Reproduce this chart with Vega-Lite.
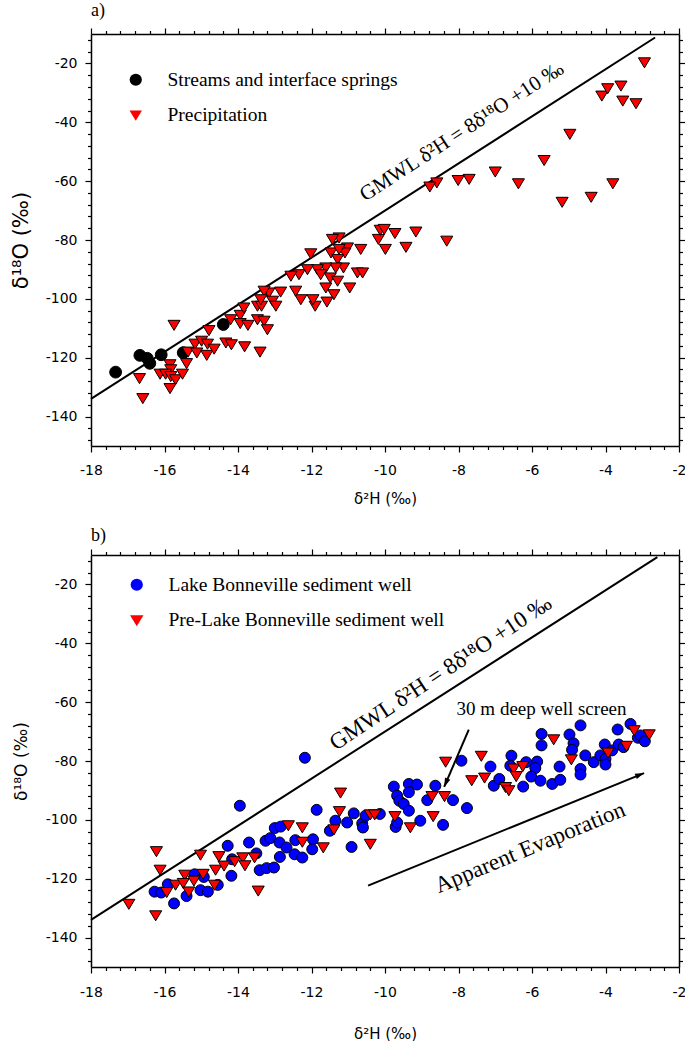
{
  "$schema": "https://vega.github.io/schema/vega-lite/v6.json",
  "padding": {"left": 10, "top": 2, "right": 0, "bottom": 0},
  "spacing": 21,
  "resolve": {"scale": {"fill": "independent", "shape": "independent"}, "legend": {"fill": "independent", "shape": "independent"}},
  "datasets": {
    "gmwl_a": [{"x": -18, "y": -134}, {"x": -2.65, "y": -11.2}],
    "gmwl_b": [{"x": -18, "y": -134}, {"x": -2.59, "y": -10.72}],
    "samples_a": [
      {"x": -17.33, "y": -124.9, "type": "Streams and interface springs"},
      {"x": -16.67, "y": -119.2, "type": "Streams and interface springs"},
      {"x": -16.47, "y": -120.2, "type": "Streams and interface springs"},
      {"x": -16.40, "y": -121.9, "type": "Streams and interface springs"},
      {"x": -16.09, "y": -119.0, "type": "Streams and interface springs"},
      {"x": -15.49, "y": -118.3, "type": "Streams and interface springs"},
      {"x": -14.40, "y": -108.7, "type": "Streams and interface springs"},
      {"x": -15.74, "y": -108.7, "type": "Precipitation"},
      {"x": -16.68, "y": -126.8, "type": "Precipitation"},
      {"x": -16.59, "y": -133.6, "type": "Precipitation"},
      {"x": -15.85, "y": -122.1, "type": "Precipitation"},
      {"x": -15.83, "y": -123.8, "type": "Precipitation"},
      {"x": -16.12, "y": -125.3, "type": "Precipitation"},
      {"x": -15.97, "y": -125.3, "type": "Precipitation"},
      {"x": -15.83, "y": -126.1, "type": "Precipitation"},
      {"x": -15.70, "y": -127.2, "type": "Precipitation"},
      {"x": -15.85, "y": -130.2, "type": "Precipitation"},
      {"x": -15.51, "y": -125.3, "type": "Precipitation"},
      {"x": -15.40, "y": -121.7, "type": "Precipitation"},
      {"x": -15.36, "y": -117.8, "type": "Precipitation"},
      {"x": -15.17, "y": -115.1, "type": "Precipitation"},
      {"x": -15.12, "y": -118.1, "type": "Precipitation"},
      {"x": -14.99, "y": -114.1, "type": "Precipitation"},
      {"x": -14.83, "y": -115.1, "type": "Precipitation"},
      {"x": -14.85, "y": -118.9, "type": "Precipitation"},
      {"x": -14.65, "y": -116.8, "type": "Precipitation"},
      {"x": -14.79, "y": -110.5, "type": "Precipitation"},
      {"x": -14.33, "y": -114.7, "type": "Precipitation"},
      {"x": -14.18, "y": -115.3, "type": "Precipitation"},
      {"x": -13.82, "y": -116.0, "type": "Precipitation"},
      {"x": -13.40, "y": -117.8, "type": "Precipitation"},
      {"x": -14.20, "y": -106.8, "type": "Precipitation"},
      {"x": -13.94, "y": -105.3, "type": "Precipitation"},
      {"x": -13.84, "y": -102.8, "type": "Precipitation"},
      {"x": -13.94, "y": -108.1, "type": "Precipitation"},
      {"x": -13.73, "y": -108.7, "type": "Precipitation"},
      {"x": -13.47, "y": -102.2, "type": "Precipitation"},
      {"x": -13.36, "y": -102.2, "type": "Precipitation"},
      {"x": -13.47, "y": -106.8, "type": "Precipitation"},
      {"x": -13.29, "y": -107.3, "type": "Precipitation"},
      {"x": -13.20, "y": -110.2, "type": "Precipitation"},
      {"x": -13.16, "y": -97.7, "type": "Precipitation"},
      {"x": -12.84, "y": -97.4, "type": "Precipitation"},
      {"x": -13.06, "y": -100.5, "type": "Precipitation"},
      {"x": -12.97, "y": -102.2, "type": "Precipitation"},
      {"x": -13.29, "y": -97.1, "type": "Precipitation"},
      {"x": -13.38, "y": -100.0, "type": "Precipitation"},
      {"x": -2.94, "y": -19.5, "type": "Precipitation"},
      {"x": -4.10, "y": -30.8, "type": "Precipitation"},
      {"x": -3.94, "y": -28.3, "type": "Precipitation"},
      {"x": -3.58, "y": -27.4, "type": "Precipitation"},
      {"x": -3.53, "y": -32.5, "type": "Precipitation"},
      {"x": -3.17, "y": -33.4, "type": "Precipitation"},
      {"x": -4.97, "y": -43.8, "type": "Precipitation"},
      {"x": -5.67, "y": -52.7, "type": "Precipitation"},
      {"x": -3.80, "y": -60.6, "type": "Precipitation"},
      {"x": -4.39, "y": -65.2, "type": "Precipitation"},
      {"x": -5.18, "y": -66.9, "type": "Precipitation"},
      {"x": -6.37, "y": -60.6, "type": "Precipitation"},
      {"x": -7.00, "y": -56.6, "type": "Precipitation"},
      {"x": -7.71, "y": -59.1, "type": "Precipitation"},
      {"x": -8.01, "y": -59.5, "type": "Precipitation"},
      {"x": -8.59, "y": -60.3, "type": "Precipitation"},
      {"x": -8.78, "y": -61.7, "type": "Precipitation"},
      {"x": -8.32, "y": -80.1, "type": "Precipitation"},
      {"x": -9.16, "y": -77.0, "type": "Precipitation"},
      {"x": -9.43, "y": -82.2, "type": "Precipitation"},
      {"x": -9.73, "y": -77.5, "type": "Precipitation"},
      {"x": -9.99, "y": -82.9, "type": "Precipitation"},
      {"x": -10.18, "y": -79.5, "type": "Precipitation"},
      {"x": -10.13, "y": -76.4, "type": "Precipitation"},
      {"x": -10.02, "y": -76.1, "type": "Precipitation"},
      {"x": -10.66, "y": -82.9, "type": "Precipitation"},
      {"x": -10.75, "y": -90.9, "type": "Precipitation"},
      {"x": -10.61, "y": -90.9, "type": "Precipitation"},
      {"x": -10.96, "y": -96.0, "type": "Precipitation"},
      {"x": -11.25, "y": -79.0, "type": "Precipitation"},
      {"x": -11.43, "y": -79.5, "type": "Precipitation"},
      {"x": -11.02, "y": -82.4, "type": "Precipitation"},
      {"x": -11.09, "y": -84.1, "type": "Precipitation"},
      {"x": -11.47, "y": -84.1, "type": "Precipitation"},
      {"x": -11.25, "y": -82.9, "type": "Precipitation"},
      {"x": -11.29, "y": -86.3, "type": "Precipitation"},
      {"x": -12.02, "y": -84.4, "type": "Precipitation"},
      {"x": -11.13, "y": -89.2, "type": "Precipitation"},
      {"x": -11.34, "y": -89.2, "type": "Precipitation"},
      {"x": -11.61, "y": -89.2, "type": "Precipitation"},
      {"x": -11.84, "y": -89.8, "type": "Precipitation"},
      {"x": -12.11, "y": -89.8, "type": "Precipitation"},
      {"x": -12.34, "y": -91.5, "type": "Precipitation"},
      {"x": -12.56, "y": -92.0, "type": "Precipitation"},
      {"x": -11.75, "y": -91.5, "type": "Precipitation"},
      {"x": -11.49, "y": -92.6, "type": "Precipitation"},
      {"x": -11.29, "y": -93.7, "type": "Precipitation"},
      {"x": -11.61, "y": -96.0, "type": "Precipitation"},
      {"x": -11.39, "y": -98.3, "type": "Precipitation"},
      {"x": -11.90, "y": -102.2, "type": "Precipitation"},
      {"x": -11.58, "y": -100.8, "type": "Precipitation"},
      {"x": -11.96, "y": -100.0, "type": "Precipitation"},
      {"x": -12.29, "y": -100.0, "type": "Precipitation"},
      {"x": -12.43, "y": -97.1, "type": "Precipitation"}
    ],
    "samples_b": [
      {"x": -13.95, "y": -95.2, "type": "Lake Bonneville sediment well"},
      {"x": -16.27, "y": -124.4, "type": "Lake Bonneville sediment well"},
      {"x": -16.09, "y": -124.7, "type": "Lake Bonneville sediment well"},
      {"x": -15.74, "y": -128.4, "type": "Lake Bonneville sediment well"},
      {"x": -15.40, "y": -125.9, "type": "Lake Bonneville sediment well"},
      {"x": -15.91, "y": -121.9, "type": "Lake Bonneville sediment well"},
      {"x": -15.18, "y": -118.5, "type": "Lake Bonneville sediment well"},
      {"x": -15.02, "y": -123.9, "type": "Lake Bonneville sediment well"},
      {"x": -14.82, "y": -124.4, "type": "Lake Bonneville sediment well"},
      {"x": -14.55, "y": -122.1, "type": "Lake Bonneville sediment well"},
      {"x": -14.93, "y": -119.4, "type": "Lake Bonneville sediment well"},
      {"x": -14.28, "y": -108.8, "type": "Lake Bonneville sediment well"},
      {"x": -14.18, "y": -119.0, "type": "Lake Bonneville sediment well"},
      {"x": -14.16, "y": -113.4, "type": "Lake Bonneville sediment well"},
      {"x": -13.70, "y": -107.7, "type": "Lake Bonneville sediment well"},
      {"x": -13.41, "y": -117.1, "type": "Lake Bonneville sediment well"},
      {"x": -13.22, "y": -116.4, "type": "Lake Bonneville sediment well"},
      {"x": -13.02, "y": -116.2, "type": "Lake Bonneville sediment well"},
      {"x": -13.50, "y": -111.4, "type": "Lake Bonneville sediment well"},
      {"x": -13.25, "y": -107.1, "type": "Lake Bonneville sediment well"},
      {"x": -13.12, "y": -106.2, "type": "Lake Bonneville sediment well"},
      {"x": -13.00, "y": -102.8, "type": "Lake Bonneville sediment well"},
      {"x": -12.84, "y": -102.3, "type": "Lake Bonneville sediment well"},
      {"x": -12.87, "y": -107.7, "type": "Lake Bonneville sediment well"},
      {"x": -12.86, "y": -112.6, "type": "Lake Bonneville sediment well"},
      {"x": -12.68, "y": -109.4, "type": "Lake Bonneville sediment well"},
      {"x": -12.46, "y": -111.7, "type": "Lake Bonneville sediment well"},
      {"x": -12.44, "y": -106.9, "type": "Lake Bonneville sediment well"},
      {"x": -12.18, "y": -78.9, "type": "Lake Bonneville sediment well"},
      {"x": -11.86, "y": -96.6, "type": "Lake Bonneville sediment well"},
      {"x": -11.96, "y": -106.6, "type": "Lake Bonneville sediment well"},
      {"x": -11.98, "y": -110.0, "type": "Lake Bonneville sediment well"},
      {"x": -12.25, "y": -112.8, "type": "Lake Bonneville sediment well"},
      {"x": -11.50, "y": -103.7, "type": "Lake Bonneville sediment well"},
      {"x": -11.35, "y": -100.3, "type": "Lake Bonneville sediment well"},
      {"x": -11.03, "y": -100.9, "type": "Lake Bonneville sediment well"},
      {"x": -10.85, "y": -97.8, "type": "Lake Bonneville sediment well"},
      {"x": -10.62, "y": -101.2, "type": "Lake Bonneville sediment well"},
      {"x": -10.60, "y": -102.6, "type": "Lake Bonneville sediment well"},
      {"x": -10.53, "y": -98.6, "type": "Lake Bonneville sediment well"},
      {"x": -10.14, "y": -98.0, "type": "Lake Bonneville sediment well"},
      {"x": -10.91, "y": -109.2, "type": "Lake Bonneville sediment well"},
      {"x": -9.76, "y": -88.7, "type": "Lake Bonneville sediment well"},
      {"x": -9.67, "y": -91.8, "type": "Lake Bonneville sediment well"},
      {"x": -9.61, "y": -93.5, "type": "Lake Bonneville sediment well"},
      {"x": -9.49, "y": -94.6, "type": "Lake Bonneville sediment well"},
      {"x": -9.35, "y": -87.8, "type": "Lake Bonneville sediment well"},
      {"x": -9.35, "y": -90.6, "type": "Lake Bonneville sediment well"},
      {"x": -9.13, "y": -88.0, "type": "Lake Bonneville sediment well"},
      {"x": -9.35, "y": -96.9, "type": "Lake Bonneville sediment well"},
      {"x": -9.71, "y": -102.4, "type": "Lake Bonneville sediment well"},
      {"x": -9.67, "y": -100.9, "type": "Lake Bonneville sediment well"},
      {"x": -9.04, "y": -100.3, "type": "Lake Bonneville sediment well"},
      {"x": -8.63, "y": -88.4, "type": "Lake Bonneville sediment well"},
      {"x": -8.85, "y": -93.3, "type": "Lake Bonneville sediment well"},
      {"x": -8.42, "y": -101.7, "type": "Lake Bonneville sediment well"},
      {"x": -8.15, "y": -93.3, "type": "Lake Bonneville sediment well"},
      {"x": -7.92, "y": -79.9, "type": "Lake Bonneville sediment well"},
      {"x": -7.77, "y": -96.0, "type": "Lake Bonneville sediment well"},
      {"x": -7.13, "y": -81.9, "type": "Lake Bonneville sediment well"},
      {"x": -7.04, "y": -88.4, "type": "Lake Bonneville sediment well"},
      {"x": -6.89, "y": -86.1, "type": "Lake Bonneville sediment well"},
      {"x": -6.24, "y": -88.7, "type": "Lake Bonneville sediment well"},
      {"x": -6.56, "y": -78.2, "type": "Lake Bonneville sediment well"},
      {"x": -6.59, "y": -81.6, "type": "Lake Bonneville sediment well"},
      {"x": -6.16, "y": -80.4, "type": "Lake Bonneville sediment well"},
      {"x": -5.86, "y": -80.2, "type": "Lake Bonneville sediment well"},
      {"x": -5.91, "y": -82.4, "type": "Lake Bonneville sediment well"},
      {"x": -6.02, "y": -85.3, "type": "Lake Bonneville sediment well"},
      {"x": -5.77, "y": -86.7, "type": "Lake Bonneville sediment well"},
      {"x": -5.45, "y": -87.8, "type": "Lake Bonneville sediment well"},
      {"x": -5.23, "y": -86.4, "type": "Lake Bonneville sediment well"},
      {"x": -5.25, "y": -81.9, "type": "Lake Bonneville sediment well"},
      {"x": -5.74, "y": -70.8, "type": "Lake Bonneville sediment well"},
      {"x": -5.74, "y": -74.7, "type": "Lake Bonneville sediment well"},
      {"x": -4.98, "y": -71.0, "type": "Lake Bonneville sediment well"},
      {"x": -4.87, "y": -74.0, "type": "Lake Bonneville sediment well"},
      {"x": -4.91, "y": -76.2, "type": "Lake Bonneville sediment well"},
      {"x": -4.68, "y": -67.9, "type": "Lake Bonneville sediment well"},
      {"x": -4.68, "y": -82.7, "type": "Lake Bonneville sediment well"},
      {"x": -4.68, "y": -84.6, "type": "Lake Bonneville sediment well"},
      {"x": -4.55, "y": -78.1, "type": "Lake Bonneville sediment well"},
      {"x": -4.32, "y": -80.4, "type": "Lake Bonneville sediment well"},
      {"x": -4.02, "y": -74.4, "type": "Lake Bonneville sediment well"},
      {"x": -4.14, "y": -78.1, "type": "Lake Bonneville sediment well"},
      {"x": -4.00, "y": -79.3, "type": "Lake Bonneville sediment well"},
      {"x": -4.00, "y": -81.2, "type": "Lake Bonneville sediment well"},
      {"x": -3.82, "y": -76.4, "type": "Lake Bonneville sediment well"},
      {"x": -3.67, "y": -69.3, "type": "Lake Bonneville sediment well"},
      {"x": -3.64, "y": -74.4, "type": "Lake Bonneville sediment well"},
      {"x": -3.51, "y": -75.3, "type": "Lake Bonneville sediment well"},
      {"x": -3.32, "y": -67.4, "type": "Lake Bonneville sediment well"},
      {"x": -3.12, "y": -72.1, "type": "Lake Bonneville sediment well"},
      {"x": -3.05, "y": -71.3, "type": "Lake Bonneville sediment well"},
      {"x": -2.93, "y": -73.3, "type": "Lake Bonneville sediment well"},
      {"x": -16.97, "y": -128.4, "type": "Pre-Lake Bonneville sediment well"},
      {"x": -16.22, "y": -110.5, "type": "Pre-Lake Bonneville sediment well"},
      {"x": -16.12, "y": -116.8, "type": "Pre-Lake Bonneville sediment well"},
      {"x": -16.24, "y": -132.3, "type": "Pre-Lake Bonneville sediment well"},
      {"x": -15.94, "y": -124.4, "type": "Pre-Lake Bonneville sediment well"},
      {"x": -15.70, "y": -121.9, "type": "Pre-Lake Bonneville sediment well"},
      {"x": -15.45, "y": -118.5, "type": "Pre-Lake Bonneville sediment well"},
      {"x": -15.49, "y": -121.3, "type": "Pre-Lake Bonneville sediment well"},
      {"x": -15.34, "y": -124.2, "type": "Pre-Lake Bonneville sediment well"},
      {"x": -15.20, "y": -120.5, "type": "Pre-Lake Bonneville sediment well"},
      {"x": -14.95, "y": -118.2, "type": "Pre-Lake Bonneville sediment well"},
      {"x": -15.02, "y": -111.7, "type": "Pre-Lake Bonneville sediment well"},
      {"x": -14.64, "y": -121.9, "type": "Pre-Lake Bonneville sediment well"},
      {"x": -14.61, "y": -116.8, "type": "Pre-Lake Bonneville sediment well"},
      {"x": -14.52, "y": -112.2, "type": "Pre-Lake Bonneville sediment well"},
      {"x": -14.38, "y": -115.4, "type": "Pre-Lake Bonneville sediment well"},
      {"x": -14.09, "y": -113.9, "type": "Pre-Lake Bonneville sediment well"},
      {"x": -13.87, "y": -112.6, "type": "Pre-Lake Bonneville sediment well"},
      {"x": -13.81, "y": -115.3, "type": "Pre-Lake Bonneville sediment well"},
      {"x": -13.55, "y": -112.6, "type": "Pre-Lake Bonneville sediment well"},
      {"x": -13.45, "y": -123.9, "type": "Pre-Lake Bonneville sediment well"},
      {"x": -12.63, "y": -101.7, "type": "Pre-Lake Bonneville sediment well"},
      {"x": -12.25, "y": -102.4, "type": "Pre-Lake Bonneville sediment well"},
      {"x": -12.25, "y": -107.3, "type": "Pre-Lake Bonneville sediment well"},
      {"x": -11.68, "y": -109.2, "type": "Pre-Lake Bonneville sediment well"},
      {"x": -11.21, "y": -90.6, "type": "Pre-Lake Bonneville sediment well"},
      {"x": -11.24, "y": -96.9, "type": "Pre-Lake Bonneville sediment well"},
      {"x": -11.39, "y": -103.1, "type": "Pre-Lake Bonneville sediment well"},
      {"x": -10.40, "y": -108.0, "type": "Pre-Lake Bonneville sediment well"},
      {"x": -10.40, "y": -98.0, "type": "Pre-Lake Bonneville sediment well"},
      {"x": -10.28, "y": -98.0, "type": "Pre-Lake Bonneville sediment well"},
      {"x": -9.73, "y": -98.6, "type": "Pre-Lake Bonneville sediment well"},
      {"x": -9.31, "y": -102.4, "type": "Pre-Lake Bonneville sediment well"},
      {"x": -8.72, "y": -91.8, "type": "Pre-Lake Bonneville sediment well"},
      {"x": -8.38, "y": -91.8, "type": "Pre-Lake Bonneville sediment well"},
      {"x": -8.69, "y": -98.6, "type": "Pre-Lake Bonneville sediment well"},
      {"x": -8.35, "y": -80.1, "type": "Pre-Lake Bonneville sediment well"},
      {"x": -7.64, "y": -86.4, "type": "Pre-Lake Bonneville sediment well"},
      {"x": -7.38, "y": -78.1, "type": "Pre-Lake Bonneville sediment well"},
      {"x": -7.29, "y": -85.5, "type": "Pre-Lake Bonneville sediment well"},
      {"x": -6.72, "y": -88.7, "type": "Pre-Lake Bonneville sediment well"},
      {"x": -6.63, "y": -89.8, "type": "Pre-Lake Bonneville sediment well"},
      {"x": -6.50, "y": -82.4, "type": "Pre-Lake Bonneville sediment well"},
      {"x": -6.43, "y": -85.0, "type": "Pre-Lake Bonneville sediment well"},
      {"x": -6.25, "y": -81.6, "type": "Pre-Lake Bonneville sediment well"},
      {"x": -5.41, "y": -72.5, "type": "Pre-Lake Bonneville sediment well"},
      {"x": -4.93, "y": -79.3, "type": "Pre-Lake Bonneville sediment well"},
      {"x": -3.93, "y": -77.0, "type": "Pre-Lake Bonneville sediment well"},
      {"x": -3.43, "y": -74.7, "type": "Pre-Lake Bonneville sediment well"},
      {"x": -3.22, "y": -69.4, "type": "Pre-Lake Bonneville sediment well"},
      {"x": -2.81, "y": -70.8, "type": "Pre-Lake Bonneville sediment well"}
    ]
  },
  "vconcat": [
    {
      "width": 588,
      "height": 412,
      "title": {"text": "a)", "anchor": "start", "frame": "group", "font": "Liberation Serif", "fontSize": 18, "fontWeight": "normal", "offset": 7, "color": "black"},
      "layer": [
        {
          "data": {"name": "gmwl_a"},
          "mark": {"type": "line", "color": "black", "strokeWidth": 2},
          "encoding": {
            "x": {"field": "x", "type": "quantitative", "scale": {"domain": [-18, -2], "nice": false, "zero": false},
              "axis": {"orient": "bottom", "values": [-18,-17.6,-17.2,-16.8,-16.4,-16,-15.6,-15.2,-14.8,-14.4,-14,-13.6,-13.2,-12.8,-12.4,-12,-11.6,-11.2,-10.8,-10.4,-10,-9.6,-9.2,-8.8,-8.4,-8,-7.6,-7.2,-6.8,-6.4,-6,-5.6,-5.2,-4.8,-4.4,-4,-3.6,-3.2,-2.8,-2.4,-2],
                "labelExpr": "abs(datum.value % 2) < 0.01 || abs(datum.value % 2) > 1.99 ? toString(datum.value) : ''",
                "tickSize": {"condition": {"test": "abs(datum.value % 2) < 0.01 || abs(datum.value % 2) > 1.99", "value": 6}, "value": 3.5},
                "labelPadding": 11, "labelOverlap": false, "labelFlush": false, "labelBound": false,
                "title": "δ²H (‰)", "titleFontSize": 15, "titleY": 52, "titleBaseline": "middle"}},
            "y": {"field": "y", "type": "quantitative", "scale": {"domain": [-150, -10], "nice": false, "zero": false},
              "axis": {"orient": "left", "values": [-148,-144,-140,-136,-132,-128,-124,-120,-116,-112,-108,-104,-100,-96,-92,-88,-84,-80,-76,-72,-68,-64,-60,-56,-52,-48,-44,-40,-36,-32,-28,-24,-20,-16,-12],
                "labelExpr": "datum.value % 20 === 0 ? toString(datum.value) : ''",
                "tickSize": {"condition": {"test": "datum.value % 20 === 0", "value": 6}, "value": 3.5},
                "labelPadding": 8, "labelOverlap": false, "labelFlush": false, "labelBound": false,
                "title": "δ¹⁸O (‰)", "titleFontSize": 21, "titleX": -70, "titleBaseline": "middle"}}
          }
        },
        {
          "data": {"name": "samples_a"},
          "mark": {"type": "point", "filled": true, "stroke": "black", "strokeWidth": 1, "opacity": 1, "size": 140},
          "encoding": {
            "x": {"field": "x", "type": "quantitative", "scale": {"domain": [-18, -2], "nice": false, "zero": false},
              "axis": {"orient": "top", "values": [-18,-17.6,-17.2,-16.8,-16.4,-16,-15.6,-15.2,-14.8,-14.4,-14,-13.6,-13.2,-12.8,-12.4,-12,-11.6,-11.2,-10.8,-10.4,-10,-9.6,-9.2,-8.8,-8.4,-8,-7.6,-7.2,-6.8,-6.4,-6,-5.6,-5.2,-4.8,-4.4,-4,-3.6,-3.2,-2.8,-2.4,-2],
                "labels": false, "title": null,
                "tickSize": {"condition": {"test": "abs(datum.value % 2) < 0.01 || abs(datum.value % 2) > 1.99", "value": 6}, "value": 3.5}}},
            "y": {"field": "y", "type": "quantitative", "scale": {"domain": [-150, -10], "nice": false, "zero": false},
              "axis": {"orient": "right", "values": [-148,-144,-140,-136,-132,-128,-124,-120,-116,-112,-108,-104,-100,-96,-92,-88,-84,-80,-76,-72,-68,-64,-60,-56,-52,-48,-44,-40,-36,-32,-28,-24,-20,-16,-12],
                "labels": false, "title": null,
                "tickSize": {"condition": {"test": "datum.value % 20 === 0", "value": 6}, "value": 3.5}}},
            "fill": {"field": "type", "type": "nominal", "scale": {"domain": ["Streams and interface springs", "Precipitation"], "range": ["black", "#ff0000"]},
              "legend": {"legendX": 35, "legendY": 36, "symbolStrokeColor": "black", "symbolStrokeWidth": 1, "encode": {"symbols": {"enter": {"stroke": {"value": "black"}, "strokeWidth": {"value": 1}}, "update": {"stroke": {"value": "black"}, "strokeWidth": {"value": 1}}}}}},
            "shape": {"field": "type", "type": "nominal", "scale": {"domain": ["Streams and interface springs", "Precipitation"], "range": ["circle", "M-1.02,-0.7L1.02,-0.7L0,1.0Z"]},
              "legend": {"legendX": 35, "legendY": 36, "symbolStrokeColor": "black", "symbolStrokeWidth": 1, "encode": {"symbols": {"enter": {"stroke": {"value": "black"}, "strokeWidth": {"value": 1}}, "update": {"stroke": {"value": "black"}, "strokeWidth": {"value": 1}}}}}}
          }
        },
        {
          "data": {"values": [{"x": -7.82, "y": -44.97, "label": "GMWL δ²H = 8δ¹⁸O +10 ‰"}]},
          "mark": {"type": "text", "angle": -33, "font": "Liberation Serif", "fontSize": 21, "align": "center", "baseline": "alphabetic", "color": "black"},
          "encoding": {
            "x": {"field": "x", "type": "quantitative", "axis": null},
            "y": {"field": "y", "type": "quantitative", "axis": null},
            "text": {"field": "label"}
          }
        }
      ],
      "resolve": {"axis": {"x": "independent", "y": "independent"}}
    },
    {
      "width": 588,
      "height": 412,
      "title": {"text": "b)", "anchor": "start", "frame": "group", "font": "Liberation Serif", "fontSize": 18, "fontWeight": "normal", "offset": 3, "color": "black"},
      "layer": [
        {
          "data": {"name": "gmwl_b"},
          "mark": {"type": "line", "color": "black", "strokeWidth": 2},
          "encoding": {
            "x": {"field": "x", "type": "quantitative", "scale": {"domain": [-18, -2], "nice": false, "zero": false},
              "axis": {"orient": "bottom", "values": [-18,-17.6,-17.2,-16.8,-16.4,-16,-15.6,-15.2,-14.8,-14.4,-14,-13.6,-13.2,-12.8,-12.4,-12,-11.6,-11.2,-10.8,-10.4,-10,-9.6,-9.2,-8.8,-8.4,-8,-7.6,-7.2,-6.8,-6.4,-6,-5.6,-5.2,-4.8,-4.4,-4,-3.6,-3.2,-2.8,-2.4,-2],
                "labelExpr": "abs(datum.value % 2) < 0.01 || abs(datum.value % 2) > 1.99 ? toString(datum.value) : ''",
                "tickSize": {"condition": {"test": "abs(datum.value % 2) < 0.01 || abs(datum.value % 2) > 1.99", "value": 6}, "value": 3.5},
                "labelPadding": 12, "labelOverlap": false, "labelFlush": false, "labelBound": false,
                "title": "δ²H (‰)", "titleFontSize": 15, "titleY": 66, "titleBaseline": "middle"}},
            "y": {"field": "y", "type": "quantitative", "scale": {"domain": [-150, -10], "nice": false, "zero": false},
              "axis": {"orient": "left", "values": [-148,-144,-140,-136,-132,-128,-124,-120,-116,-112,-108,-104,-100,-96,-92,-88,-84,-80,-76,-72,-68,-64,-60,-56,-52,-48,-44,-40,-36,-32,-28,-24,-20,-16,-12],
                "labelExpr": "datum.value % 20 === 0 ? toString(datum.value) : ''",
                "tickSize": {"condition": {"test": "datum.value % 20 === 0", "value": 6}, "value": 3.5},
                "labelPadding": 8, "labelOverlap": false, "labelFlush": false, "labelBound": false,
                "title": "δ¹⁸O (‰)", "titleFontSize": 17, "titleX": -70, "titleBaseline": "middle"}}
          }
        },
        {
          "data": {"name": "samples_b"},
          "mark": {"type": "point", "filled": true, "stroke": "black", "strokeWidth": 1, "opacity": 1, "size": 120},
          "encoding": {
            "x": {"field": "x", "type": "quantitative", "scale": {"domain": [-18, -2], "nice": false, "zero": false},
              "axis": {"orient": "top", "values": [-18,-17.6,-17.2,-16.8,-16.4,-16,-15.6,-15.2,-14.8,-14.4,-14,-13.6,-13.2,-12.8,-12.4,-12,-11.6,-11.2,-10.8,-10.4,-10,-9.6,-9.2,-8.8,-8.4,-8,-7.6,-7.2,-6.8,-6.4,-6,-5.6,-5.2,-4.8,-4.4,-4,-3.6,-3.2,-2.8,-2.4,-2],
                "labels": false, "title": null,
                "tickSize": {"condition": {"test": "abs(datum.value % 2) < 0.01 || abs(datum.value % 2) > 1.99", "value": 6}, "value": 3.5}}},
            "y": {"field": "y", "type": "quantitative", "scale": {"domain": [-150, -10], "nice": false, "zero": false},
              "axis": {"orient": "right", "values": [-148,-144,-140,-136,-132,-128,-124,-120,-116,-112,-108,-104,-100,-96,-92,-88,-84,-80,-76,-72,-68,-64,-60,-56,-52,-48,-44,-40,-36,-32,-28,-24,-20,-16,-12],
                "labels": false, "title": null,
                "tickSize": {"condition": {"test": "datum.value % 20 === 0", "value": 6}, "value": 3.5}}},
            "fill": {"field": "type", "type": "nominal", "scale": {"domain": ["Lake Bonneville sediment well", "Pre-Lake Bonneville sediment well"], "range": ["#0000ff", "#ff0000"]},
              "legend": {"legendX": 36, "legendY": 20, "symbolStrokeColor": "black", "symbolStrokeWidth": 1, "encode": {"symbols": {"enter": {"stroke": {"value": "black"}, "strokeWidth": {"value": 1}}, "update": {"stroke": {"value": "black"}, "strokeWidth": {"value": 1}}}}}},
            "shape": {"field": "type", "type": "nominal", "scale": {"domain": ["Lake Bonneville sediment well", "Pre-Lake Bonneville sediment well"], "range": ["circle", "M-1.1,-0.75L1.1,-0.75L0,1.08Z"]},
              "legend": {"legendX": 36, "legendY": 20, "symbolStrokeColor": "black", "symbolStrokeWidth": 1, "encode": {"symbols": {"enter": {"stroke": {"value": "black"}, "strokeWidth": {"value": 1}}, "update": {"stroke": {"value": "black"}, "strokeWidth": {"value": 1}}}}}}
          }
        },
        {
          "data": {"values": [{"x": -8.38, "y": -52.1, "label": "GMWL δ²H = 8δ¹⁸O +10 ‰"}]},
          "mark": {"type": "text", "angle": -33.5, "font": "Liberation Serif", "fontSize": 23, "align": "center", "baseline": "alphabetic", "color": "black"},
          "encoding": {
            "x": {"field": "x", "type": "quantitative", "axis": null},
            "y": {"field": "y", "type": "quantitative", "axis": null},
            "text": {"field": "label"}
          }
        },
        {
          "data": {"values": [{"x": -5.74, "y": -64.5, "label": "30 m deep well screen"}]},
          "mark": {"type": "text", "font": "Liberation Serif", "fontSize": 19, "align": "center", "baseline": "alphabetic", "color": "black"},
          "encoding": {
            "x": {"field": "x", "type": "quantitative", "axis": null},
            "y": {"field": "y", "type": "quantitative", "axis": null},
            "text": {"field": "label"}
          }
        },
        {
          "data": {"values": [{"x": -5.98, "y": -111.65, "label": "Apparent Evaporation"}]},
          "mark": {"type": "text", "angle": -22.6, "font": "Liberation Serif", "fontSize": 23, "align": "center", "baseline": "alphabetic", "color": "black"},
          "encoding": {
            "x": {"field": "x", "type": "quantitative", "axis": null},
            "y": {"field": "y", "type": "quantitative", "axis": null},
            "text": {"field": "label"}
          }
        },
        {
          "data": {"values": [{"x": -7.72, "y": -69.35, "x2": -8.39, "y2": -88.8}, {"x": -10.46, "y": -122.35, "x2": -2.95, "y2": -84.1}]},
          "mark": {"type": "rule", "color": "black", "strokeWidth": 2},
          "encoding": {
            "x": {"field": "x", "type": "quantitative", "axis": null},
            "y": {"field": "y", "type": "quantitative", "axis": null},
            "x2": {"field": "x2"},
            "y2": {"field": "y2"}
          }
        },
        {
          "data": {"values": [{"x": -8.39, "y": -88.8}]},
          "mark": {"type": "point", "shape": "M0,0L0.32,1L-0.32,1Z", "size": 324, "angle": 202.8, "filled": true, "color": "black", "opacity": 1},
          "encoding": {
            "x": {"field": "x", "type": "quantitative", "axis": null},
            "y": {"field": "y", "type": "quantitative", "axis": null}
          }
        },
        {
          "data": {"values": [{"x": -2.95, "y": -84.1}]},
          "mark": {"type": "point", "shape": "M0,0L0.32,1L-0.32,1Z", "size": 324, "angle": 67.9, "filled": true, "color": "black", "opacity": 1},
          "encoding": {
            "x": {"field": "x", "type": "quantitative", "axis": null},
            "y": {"field": "y", "type": "quantitative", "axis": null}
          }
        }
      ],
      "resolve": {"axis": {"x": "independent", "y": "independent"}}
    }
  ],
  "config": {
    "font": "DejaVu Sans",
    "view": {"stroke": null},
    "axis": {"grid": false, "domainColor": "black", "domainWidth": 1.5, "tickColor": "black", "tickWidth": 1.2, "labelColor": "black", "titleColor": "black", "labelFont": "DejaVu Sans", "labelFontSize": 14, "titleFont": "DejaVu Sans", "titleFontWeight": "normal"},
    "legend": {"orient": "none", "title": null, "padding": 0, "labelFont": "Liberation Serif", "labelFontSize": 19.5, "labelColor": "black", "symbolSize": 150, "symbolStrokeColor": "black", "symbolStrokeWidth": 1, "rowPadding": 14, "labelOffset": 22, "labelLimit": 400}
  }
}
